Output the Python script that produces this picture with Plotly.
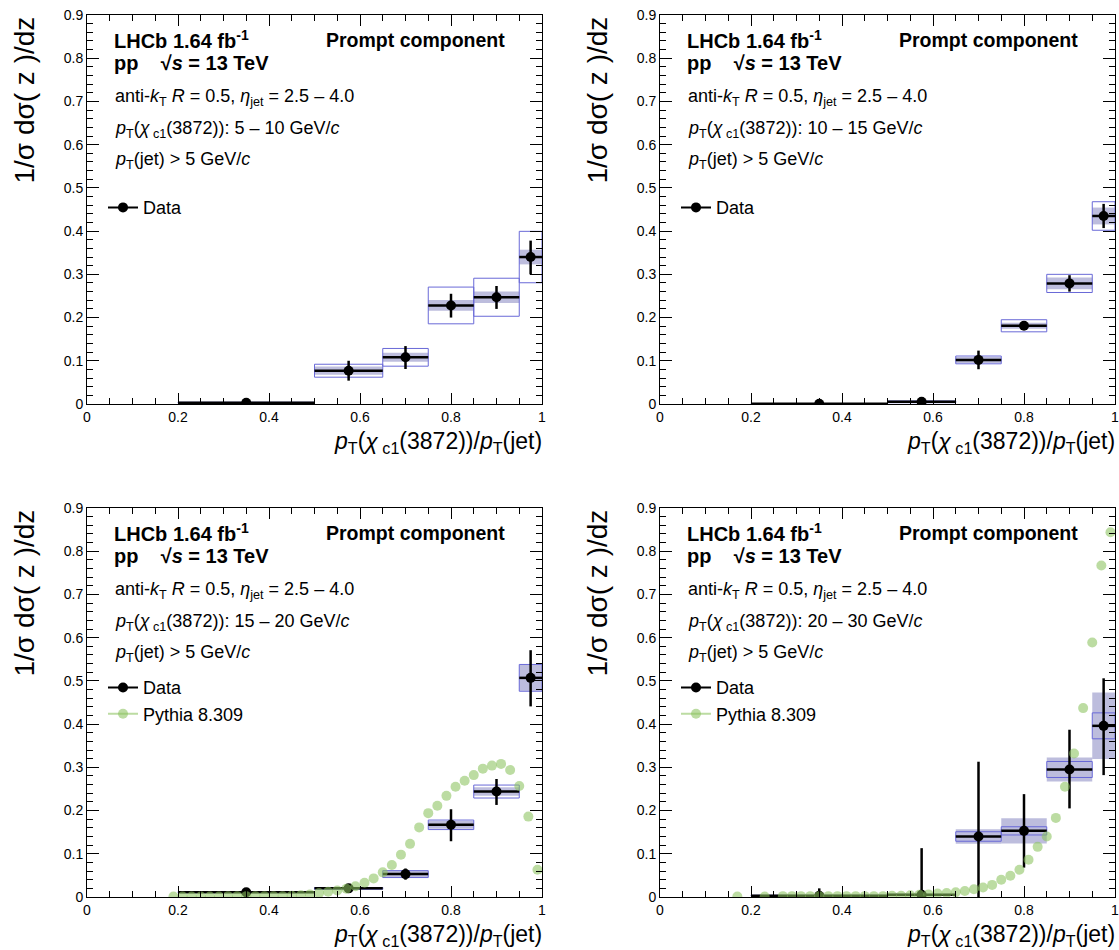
import plotly.graph_objects as go

W, H = 1119, 950
FONT = "Liberation Sans, Arial, Helvetica, sans-serif"

# ---------------- data ----------------
bin_lo = [0.2, 0.5, 0.65, 0.75, 0.85, 0.95]
bin_hi = [0.5, 0.65, 0.75, 0.85, 0.95, 1.0]
z_center = [0.35, 0.575, 0.7, 0.8, 0.9, 0.975]

pt_ranges = ["5 \u2013 10", "10 \u2013 15", "15 \u2013 20", "20 \u2013 30"]

# panel 1 : 5-10 GeV
data1 = [0.003, 0.077, 0.108, 0.228, 0.247, 0.340]
stat_up1 = [0.002, 0.023, 0.026, 0.027, 0.026, 0.038]
stat_dn1 = [0.002, 0.023, 0.027, 0.028, 0.027, 0.040]
syst_a1 = [0.001, 0.015, 0.0205, 0.0425, 0.044, 0.0595]   # outlined boxes (half height)
syst_b1 = [0.001, 0.0095, 0.0105, 0.0125, 0.0135, 0.017]  # filled boxes (half height)

# panel 2 : 10-15 GeV
data2 = [0.0005, 0.005, 0.102, 0.181, 0.279, 0.435]
stat_up2 = [0.001, 0.002, 0.0215, 0.006, 0.019, 0.028]
stat_dn2 = [0.001, 0.002, 0.0215, 0.006, 0.019, 0.028]
syst_a2 = [0.0005, 0.002, 0.009, 0.014, 0.021, 0.033]
syst_b2 = [0.0005, 0.002, 0.007, 0.007, 0.0135, 0.0195]

# panel 3 : 15-20 GeV
data3 = [0.011, 0.020, 0.053, 0.167, 0.244, 0.507]
stat_up3 = [0.002, 0.004, 0.013, 0.036, 0.029, 0.064]
stat_dn3 = [0.002, 0.004, 0.013, 0.038, 0.031, 0.066]
syst_a3 = [0.001, 0.002, 0.008, 0.011, 0.015, 0.031]
syst_b3 = [0.001, 0.002, 0.007, 0.009, 0.010, 0.030]

# panel 4 : 20-30 GeV
data4 = [0.003, 0.005, 0.140, 0.153, 0.295, 0.396]
stat_up4 = [0.017, 0.108, 0.173, 0.085, 0.092, 0.110]
stat_dn4 = [0.003, 0.005, 0.170, 0.085, 0.090, 0.114]
syst_a4 = [0.001, 0.001, 0.011, 0.0095, 0.0185, 0.030]
syst_b4 = [0.001, 0.001, 0.017, 0.029, 0.028, 0.077]

# Pythia 8.309 predictions (panels 3 and 4)
pythia_z3 = [0.19, 0.21, 0.23, 0.25, 0.27, 0.29, 0.31, 0.33, 0.35, 0.37, 0.39,
             0.41, 0.43, 0.45, 0.47, 0.49, 0.51, 0.53, 0.55, 0.57, 0.59, 0.61,
             0.63, 0.65, 0.67, 0.69, 0.71, 0.73, 0.75, 0.77, 0.79, 0.81, 0.83,
             0.85, 0.87, 0.89, 0.91, 0.93, 0.95, 0.97, 0.99]
pythia_y3 = [0.001, 0.001, 0.001, 0.001, 0.001, 0.001, 0.002, 0.002, 0.002, 0.002, 0.002,
             0.002, 0.002, 0.003, 0.004, 0.006, 0.009, 0.012, 0.015, 0.019, 0.025, 0.033,
             0.043, 0.057, 0.074, 0.098, 0.123, 0.161, 0.194, 0.211, 0.234, 0.255, 0.269,
             0.282, 0.297, 0.304, 0.308, 0.294, 0.257, 0.186, 0.063]

pythia_z4 = [0.17, 0.23, 0.27, 0.29, 0.31, 0.33, 0.35, 0.37, 0.39, 0.41, 0.43,
             0.45, 0.47, 0.49, 0.51, 0.53, 0.55, 0.57, 0.59, 0.61, 0.63, 0.65,
             0.67, 0.69, 0.71, 0.73, 0.75, 0.77, 0.79, 0.81, 0.83, 0.85, 0.87,
             0.89, 0.91, 0.93, 0.95, 0.97, 0.99]
pythia_y4 = [0.001, 0.001, 0.002, 0.002, 0.002, 0.002, 0.002, 0.002, 0.002, 0.002, 0.002,
             0.002, 0.002, 0.002, 0.003, 0.003, 0.004, 0.005, 0.006, 0.008, 0.009, 0.011,
             0.014, 0.018, 0.022, 0.028, 0.040, 0.049, 0.063, 0.086, 0.116, 0.140, 0.183,
             0.255, 0.332, 0.437, 0.589, 0.767, 0.844]

panels = [
    dict(y=data1, up=stat_up1, dn=stat_dn1, sa=syst_a1, sb=syst_b1, pz=None, py=None),
    dict(y=data2, up=stat_up2, dn=stat_dn2, sa=syst_a2, sb=syst_b2, pz=None, py=None),
    dict(y=data3, up=stat_up3, dn=stat_dn3, sa=syst_a3, sb=syst_b3, pz=pythia_z3, py=pythia_y3),
    dict(y=data4, up=stat_up4, dn=stat_dn4, sa=syst_a4, sb=syst_b4, pz=pythia_z4, py=pythia_y4),
]

# ---------------- layout geometry ----------------
def px_x(p):
    return p / W

def px_y(p):
    return 1 - p / H

xdoms = [[px_x(87), px_x(542)], [px_x(660), px_x(1115)]] * 2
ydoms = [[px_y(404), px_y(15)]] * 2 + [[px_y(897), px_y(508)]] * 2

OUTLINE = "rgb(105,105,215)"
FILL = "rgba(90,90,170,0.40)"
PYTHIA = "rgba(140,195,95,0.58)"

fig = go.Figure()
annotations = []
layout = {}

for i, p in enumerate(panels):
    n = i + 1
    xa = "x" if n == 1 else f"x{n}"
    ya = "y" if n == 1 else f"y{n}"
    lg = "legend" if n == 1 else f"legend{n}"
    widths = [h - l for l, h in zip(bin_lo, bin_hi)]

    # filled systematic boxes
    fig.add_trace(go.Bar(
        x=z_center, y=[2 * s for s in p["sb"]],
        base=[v - s for v, s in zip(p["y"], p["sb"])],
        width=widths, marker=dict(color=FILL, line=dict(width=0)),
        xaxis=xa, yaxis=ya, showlegend=False, hoverinfo="skip"))
    # outlined systematic boxes
    fig.add_trace(go.Bar(
        x=z_center, y=[2 * s for s in p["sa"]],
        base=[v - s for v, s in zip(p["y"], p["sa"])],
        width=widths, marker=dict(color="rgba(0,0,0,0)", line=dict(color=OUTLINE, width=1)),
        xaxis=xa, yaxis=ya, showlegend=False, hoverinfo="skip"))
    # data points
    fig.add_trace(go.Scatter(
        x=z_center, y=p["y"], mode="markers",
        marker=dict(color="black", size=10),
        error_y=dict(type="data", symmetric=False, array=p["up"], arrayminus=p["dn"],
                     color="black", thickness=2.5, width=0),
        error_x=dict(type="data", symmetric=False,
                     array=[h - z for h, z in zip(bin_hi, z_center)],
                     arrayminus=[z - l for l, z in zip(bin_lo, z_center)],
                     color="black", thickness=2.5, width=0),
        xaxis=xa, yaxis=ya, showlegend=False, cliponaxis=True))
    # legend entries
    fig.add_trace(go.Scatter(
        x=[None], y=[None], mode="lines+markers", name="Data",
        line=dict(color="black", width=2), marker=dict(color="black", size=10),
        xaxis=xa, yaxis=ya, legend=lg, showlegend=True))
    if p["pz"] is not None:
        fig.add_trace(go.Scatter(
            x=p["pz"], y=p["py"], mode="markers",
            marker=dict(color=PYTHIA, size=10, line=dict(width=0)),
            xaxis=xa, yaxis=ya, showlegend=False))
        fig.add_trace(go.Scatter(
            x=[None], y=[None], mode="lines+markers", name="Pythia 8.309",
            line=dict(color=PYTHIA, width=2), marker=dict(color=PYTHIA, size=10),
            xaxis=xa, yaxis=ya, legend=lg, showlegend=True))

    common = dict(showline=True, linecolor="black", linewidth=1, mirror="allticks",
                  ticks="inside", tickcolor="black", tickwidth=1, showgrid=False,
                  zeroline=False, automargin=False, ticklabeloverflow="allow",
                  tickfont=dict(family=FONT, size=14, color="black"))
    layout["xaxis" if n == 1 else f"xaxis{n}"] = dict(
        domain=xdoms[i], anchor=ya, range=[0, 1], tick0=0, dtick=0.2, ticklen=11,
        minor=dict(dtick=0.05, ticklen=6, ticks="inside", tickcolor="black"),
        **common)
    layout["yaxis" if n == 1 else f"yaxis{n}"] = dict(
        domain=ydoms[i], anchor=xa, range=[0, 0.9], tick0=0, dtick=0.1, ticklen=12,
        minor=dict(dtick=0.02, ticklen=6, ticks="inside", tickcolor="black"),
        **common)

    # legend placement
    left_px = 87 if n in (1, 3) else 660
    leg_y = 0.497 if n <= 2 else 0.527
    layout[lg] = dict(
        x=px_x(left_px + 16), xanchor="left",
        y=ydoms[i][0] + (ydoms[i][1] - ydoms[i][0]) * leg_y / 0.9, yanchor="top",
        bgcolor="rgba(0,0,0,0)", borderwidth=0, itemwidth=30,
        font=dict(family=FONT, size=18, color="black"), tracegroupgap=0)

    # text annotations
    def ann(text, xv, yv, size, xanchor="left", bold=False):
        annotations.append(dict(
            text=f"<b>{text}</b>" if bold else text, x=xv, y=yv, xref=xa, yref=ya,
            xanchor=xanchor, yanchor="middle", showarrow=False,
            font=dict(family=FONT, size=size, color="black")))

    ann("LHCb 1.64 fb<sup>-1</sup>", 0.055, 0.843, 20, bold=True)
    ann("Prompt component", 0.922, 0.843, 19.5, xanchor="right", bold=True)
    ann("pp\u00a0\u00a0\u00a0\u00a0\u221a<i>s</i> = 13 TeV", 0.055, 0.79, 20, bold=True)
    ann("anti-<i>k</i><sub>T</sub> <i>R</i> = 0.5, <i>\u03b7</i><sub>jet</sub> = 2.5 \u2013 4.0",
        0.058, 0.708, 18)
    ann(f"<i>p</i><sub>T</sub>(<i>\u03c7</i><sub> c1</sub>(3872)): {pt_ranges[i]} GeV/<i>c</i>",
        0.058, 0.635, 18)
    ann("<i>p</i><sub>T</sub>(jet) > 5 GeV/<i>c</i>", 0.058, 0.563, 18)

    # axis titles
    annotations.append(dict(
        text="1/\u03c3 d\u03c3( z )/dz", textangle=-90, x=px_x(left_px - 63), y=ydoms[i][1],
        xref="paper", yref="paper", xanchor="center", yanchor="top", showarrow=False,
        font=dict(family=FONT, size=28, color="black")))
    annotations.append(dict(
        text="<i>p</i><sub>T</sub>(<i>\u03c7</i><sub> c1</sub>(3872))/<i>p</i><sub>T</sub>(jet)",
        x=xdoms[i][1] + 2 / W, y=ydoms[i][0] - 38 / H, xref="paper", yref="paper",
        xanchor="right", yanchor="middle", showarrow=False,
        font=dict(family=FONT, size=23, color="black")))

fig.update_layout(
    width=W, height=H, margin=dict(l=0, r=0, t=0, b=0, autoexpand=False),
    paper_bgcolor="white", plot_bgcolor="white",
    barmode="overlay", annotations=annotations,
    font=dict(family=FONT, color="black"),
    **layout)

fig.write_html("out.html", config={"displayModeBar": False},
               post_script="document.body.style.margin='0';document.body.style.overflow='hidden';")
